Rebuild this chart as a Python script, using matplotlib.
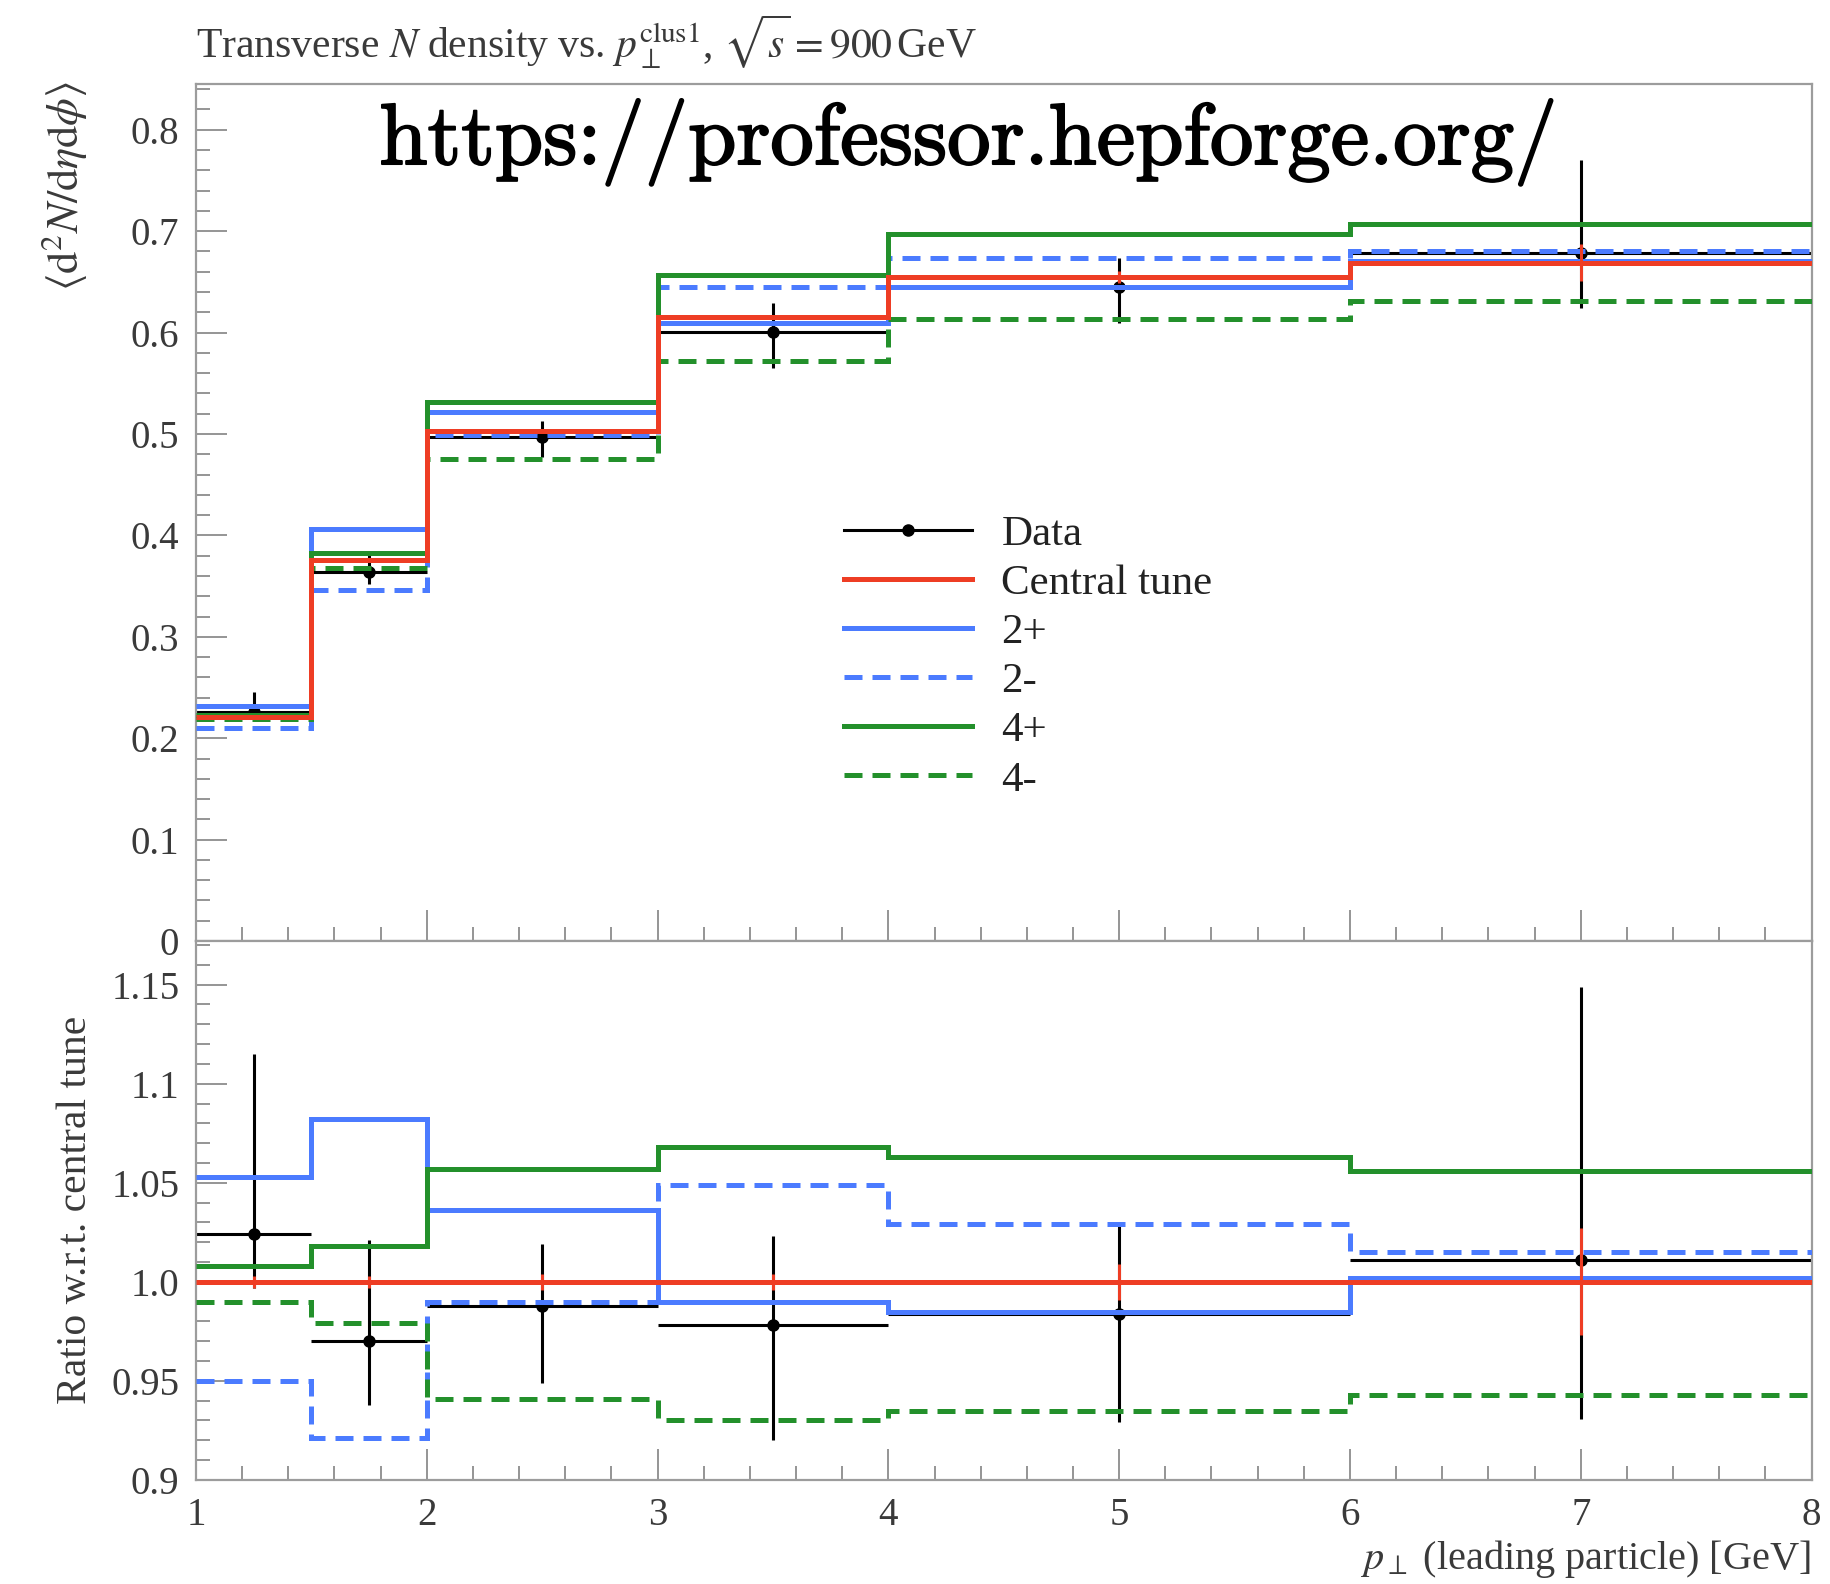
import matplotlib
matplotlib.use("Agg")
import matplotlib.pyplot as plt
import matplotlib.patheffects as pe
from matplotlib.lines import Line2D
from matplotlib.ticker import MultipleLocator

plt.rcParams["font.family"] = ["Liberation Serif", "DejaVu Serif"]
plt.rcParams["mathtext.fontset"] = "stix"

# binning in leading-particle pT
edges = [1.0, 1.5, 2.0, 3.0, 4.0, 6.0, 8.0]
x_data = [1.25, 1.75, 2.5, 3.5, 5.0, 7.0]
x_half = [0.25, 0.25, 0.5, 0.5, 1.0, 1.0]

# transverse density (top panel)
data_val = [0.226, 0.364, 0.497, 0.601, 0.645, 0.678]
data_up = [0.020, 0.019, 0.016, 0.028, 0.029, 0.092]
data_down = [0.006, 0.012, 0.020, 0.036, 0.036, 0.054]
central = [0.221, 0.3755, 0.503, 0.615, 0.655, 0.669]
central_err = [0.001, 0.001, 0.002, 0.002, 0.006, 0.018]
tune_2p = [0.232, 0.406, 0.522, 0.609, 0.645, 0.671]
tune_2m = [0.210, 0.346, 0.499, 0.645, 0.674, 0.680]
tune_4p = [0.223, 0.383, 0.532, 0.657, 0.697, 0.707]
tune_4m = [0.219, 0.368, 0.475, 0.572, 0.613, 0.631]

# ratio w.r.t. central tune (bottom panel)
r_data = [1.024, 0.970, 0.988, 0.978, 0.984, 1.011]
r_data_up = [0.091, 0.051, 0.031, 0.045, 0.045, 0.138]
r_data_down = [0.027, 0.032, 0.039, 0.058, 0.055, 0.080]
r_central = [1.0, 1.0, 1.0, 1.0, 1.0, 1.0]
r_central_err = [0.003, 0.003, 0.004, 0.004, 0.009, 0.027]
r_2p = [1.053, 1.082, 1.036, 0.990, 0.985, 1.002]
r_2m = [0.950, 0.921, 0.990, 1.049, 1.029, 1.015]
r_4p = [1.008, 1.018, 1.057, 1.068, 1.063, 1.056]
r_4m = [0.990, 0.979, 0.941, 0.930, 0.935, 0.943]

top_ticks = [0, 0.1, 0.2, 0.3, 0.4, 0.5, 0.6, 0.7, 0.8]
top_labels = ["0", "0.1", "0.2", "0.3", "0.4", "0.5", "0.6", "0.7", "0.8"]
ratio_ticks = [0.9, 0.95, 1.0, 1.05, 1.1, 1.15]
ratio_labels = ["0.9", "0.95", "1.0", "1.05", "1.1", "1.15"]
x_ticks = [1, 2, 3, 4, 5, 6, 7, 8]

RED = "#ee3d24"
BLUE = "#4b7bff"
GREEN = "#23902b"
DASH = (0, (3.6, 2.0))
LW = 3.6

fig = plt.figure(figsize=(18.3, 15.84), dpi=100)
ax = fig.add_axes([0.1071, 0.4059, 0.8828, 0.5410])
rax = fig.add_axes([0.1071, 0.0657, 0.8828, 0.3402], sharex=ax)


def draw_panel(a, dval, dup, ddown, cval, cerr, v2p, v2m, v4p, v4m):
    a.errorbar(x_data, dval, yerr=[ddown, dup], xerr=x_half, fmt="o",
               color="black", ms=8, elinewidth=2.2, capsize=0, zorder=2)
    a.stairs(v2p, edges, baseline=None, color=BLUE, lw=LW, zorder=3)
    a.stairs(v2m, edges, baseline=None, color=BLUE, lw=LW, ls=DASH, zorder=4)
    a.stairs(v4p, edges, baseline=None, color=GREEN, lw=LW, zorder=5)
    a.stairs(v4m, edges, baseline=None, color=GREEN, lw=LW, ls=DASH, zorder=6)
    a.stairs(cval, edges, baseline=None, color=RED, lw=LW, zorder=7)
    a.errorbar(x_data, cval, yerr=cerr, fmt="none", ecolor=RED,
               elinewidth=2.2, capsize=0, zorder=7)


draw_panel(ax, data_val, data_up, data_down, central, central_err,
           tune_2p, tune_2m, tune_4p, tune_4m)
draw_panel(rax, r_data, r_data_up, r_data_down, r_central, r_central_err,
           r_2p, r_2m, r_4p, r_4m)

ax.set_xlim(1, 8)
ax.set_ylim(0, 0.845)
rax.set_ylim(0.9, 1.172)

ax.set_yticks(top_ticks, top_labels)
rax.set_yticks(ratio_ticks, ratio_labels)
rax.set_xticks(x_ticks, [str(t) for t in x_ticks])
ax.yaxis.set_minor_locator(MultipleLocator(0.02))
rax.yaxis.set_minor_locator(MultipleLocator(0.01))

for a in (ax, rax):
    for s in a.spines.values():
        s.set_color("#9c9c9c")
        s.set_linewidth(1.6)
    a.xaxis.set_minor_locator(MultipleLocator(0.2))
    a.tick_params(which="both", direction="in", color="#8c8c8c", width=1.3,
                  labelsize=28, labelcolor="#3a3a3a", pad=12)
    a.tick_params(which="major", length=22)
    a.tick_params(which="minor", length=10)
ax.tick_params(labelbottom=False)

# legend
handles = [
    Line2D([], [], color="black", lw=2.2, marker="o", ms=8),
    Line2D([], [], color=RED, lw=LW),
    Line2D([], [], color=BLUE, lw=LW),
    Line2D([], [], color=BLUE, lw=LW, ls=DASH),
    Line2D([], [], color=GREEN, lw=LW),
    Line2D([], [], color=GREEN, lw=LW, ls=DASH),
]
labels = ["Data", "Central tune", "2+", "2-", "4+", "4-"]
ax.legend(handles, labels, loc="upper left", bbox_to_anchor=(0.401, 0.497),
          frameon=False, fontsize=31, handlelength=2.98, handletextpad=0.68,
          labelspacing=0.23, borderpad=0, borderaxespad=0, labelcolor="#222222")

# titles and axis labels
fig.text(0.107, 0.974,
         r"Transverse $N$ density vs. $p_\perp^{\rm clus1}$, $\sqrt{s} = 900\,$GeV",
         fontsize=30, color="#3a3a3a", ha="left", va="center")
fig.text(0.035, 0.949, r"$\langle \mathrm{d}^2 N / \mathrm{d}\eta \mathrm{d}\phi \rangle$",
         fontsize=32, color="#3a3a3a", rotation=90, ha="center", va="top")
fig.text(0.0415, 0.236, "Ratio w.r.t. central tune", fontsize=30,
         color="#3a3a3a", rotation=90, ha="center", va="center")
fig.text(0.9896, 0.016, r"$p_\perp$ (leading particle) [GeV]", fontsize=29,
         color="#3a3a3a", ha="right", va="center")

fig.text(0.529, 0.910, "https://professor.hepforge.org/", fontfamily="cmr10",
         fontsize=62.5, color="black", ha="center", va="center",
         path_effects=[pe.withStroke(linewidth=1.4, foreground="black")])

fig.savefig("out.png", dpi=100)
